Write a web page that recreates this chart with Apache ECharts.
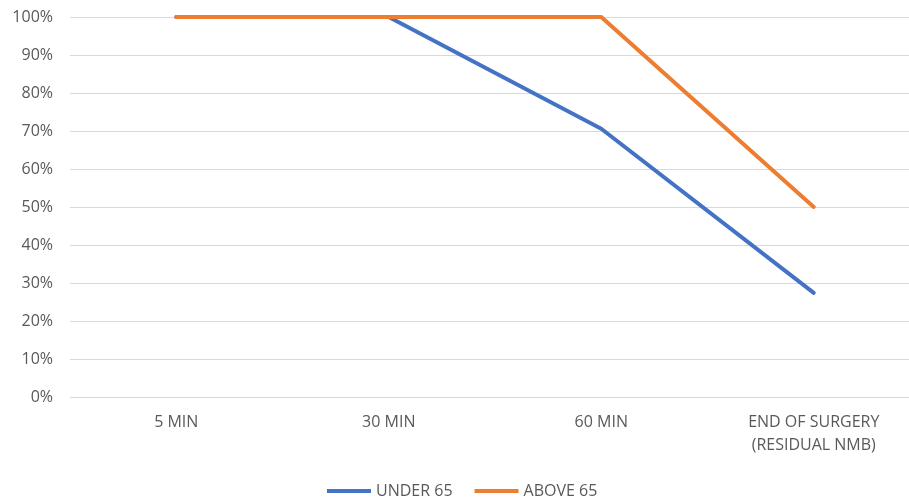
<!DOCTYPE html>
<html>
<head>
<meta charset="utf-8">
<script src="https://cdn.jsdelivr.net/npm/echarts@6/dist/echarts.min.js"></script>
<style>
  html, body { margin: 0; padding: 0; background: #fff; overflow: hidden; }
  /* canvas is a little wider than the window so the plot area runs past the right edge */
  #chart { width: 920px; height: 500px; }
</style>
</head>
<body>
<div id="chart"></div>
<script>
// Time points along the x axis
const categories = ['5 MIN', '30 MIN', '60 MIN', 'END OF SURGERY\n(RESIDUAL NMB)'];
// Percentages per age group
const under65 = [100, 100, 70.6, 27.4];
const above65 = [100, 100, 100, 50];
const seriesNames = ['UNDER 65', 'ABOVE 65'];

const textColor = '#595959';
const fontFamily = '"Open Sans", "Noto Sans", sans-serif';

const chart = echarts.init(document.getElementById('chart'));
chart.setOption({
  animation: false,
  color: ['#4472C4', '#ED7D31'],
  grid: { left: 70, right: 0, top: 17, height: 380, containLabel: false },
  legend: {
    top: 478,
    left: 322,
    itemWidth: 44,
    itemHeight: 4,
    itemGap: 22,
    icon: 'rect',
    textStyle: { color: textColor, fontSize: 16, fontFamily: fontFamily },
    data: seriesNames
  },
  xAxis: {
    type: 'category',
    data: categories,
    boundaryGap: true,
    axisLine: { show: false },
    axisTick: { show: false },
    axisLabel: {
      color: textColor, fontSize: 16, fontFamily: fontFamily,
      margin: 14, lineHeight: 23
    }
  },
  yAxis: {
    type: 'value',
    min: 0,
    max: 100,
    interval: 10,
    axisLine: { show: false },
    axisTick: { show: false },
    axisLabel: {
      formatter: '{value}%',
      color: textColor, fontSize: 16, fontFamily: fontFamily, margin: 17
    },
    splitLine: { lineStyle: { color: '#D9D9D9', width: 1 } }
  },
  series: [
    {
      name: seriesNames[0],
      type: 'line',
      data: under65,
      showSymbol: false,
      symbol: 'none',
      lineStyle: { width: 4, cap: 'round', join: 'round' },
      z: 2
    },
    {
      name: seriesNames[1],
      type: 'line',
      data: above65,
      showSymbol: false,
      symbol: 'none',
      lineStyle: { width: 4, cap: 'round', join: 'round' },
      z: 3
    }
  ]
});
</script>
</body>
</html>
